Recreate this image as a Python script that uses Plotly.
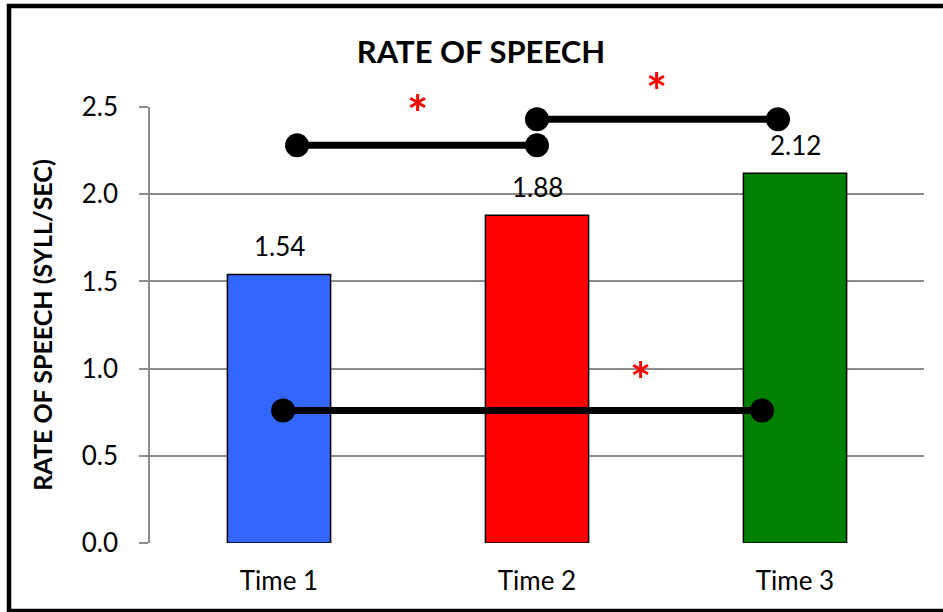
import plotly.graph_objects as go

categories = ["Time 1", "Time 2", "Time 3"]
values = [1.54, 1.88, 2.12]
bar_colors = ["#3366FF", "#FF0000", "#008000"]
value_labels = ["1.54", "1.88", "2.12"]

# significance brackets: (x start, x end, y level), x in category-index units
sig_x0 = [0.07, 1.0, 0.016]
sig_x1 = [1.0, 1.934, 1.872]
sig_y = [2.28, 2.43, 0.76]
# asterisk positions
star_x = [0.535, 1.465, 1.403]
star_y = [2.51, 2.64, 0.98]

y_max = 2.5
yticks = [0.0, 0.5, 1.0, 1.5, 2.0, 2.5]

font_family = "Lato, 'Open Sans', sans-serif"

fig = go.Figure()
idx = list(range(len(categories)))
fig.add_trace(go.Bar(
    x=idx, y=values, width=0.4,
    marker=dict(color=bar_colors, line=dict(color="black", width=1.5)),
    showlegend=False, hoverinfo="skip",
))

for x0, x1, y in zip(sig_x0, sig_x1, sig_y):
    fig.add_trace(go.Scatter(
        x=[x0, x1], y=[y, y], mode="lines+markers",
        line=dict(color="black", width=7),
        marker=dict(color="black", size=24, symbol="circle"),
        showlegend=False, hoverinfo="skip", cliponaxis=False,
    ))

for x, y in zip(star_x, star_y):
    fig.add_annotation(x=x, xref="x", y=y / y_max, yref="paper",
                       xanchor="center", yanchor="middle",
                       text="<b>*</b>", showarrow=False, yshift=-8,
                       font=dict(color="red", size=50, family=font_family))

for i, v, lab in zip(idx, values, value_labels):
    fig.add_annotation(x=i, y=v, text=lab, showarrow=False, yshift=28,
                       xanchor="center", yanchor="middle",
                       font=dict(color="black", size=26, family=font_family))

W, H = 943, 612
L, R, T, B = 150, 19, 107, 69
pw, ph = W - L - R, H - T - B
def px_x(p):
    return (p - L) / pw
def px_y(p):
    return (H - B - p) / ph

fig.add_shape(type="rect", xref="paper", yref="paper",
              x0=px_x(9), x1=px_x(950), y0=px_y(611), y1=px_y(6),
              line=dict(color="black", width=4.5), fillcolor="rgba(0,0,0,0)")

fig.update_layout(
    width=W, height=H,
    margin=dict(l=L, r=R, t=T, b=B),
    paper_bgcolor="white", plot_bgcolor="white",
    font=dict(family=font_family, color="black"),
    title=dict(text="<b>RATE OF SPEECH</b>", x=481 / W, xanchor="center",
               y=1 - 52 / H, yanchor="middle",
               font=dict(size=31, family=font_family, color="black")),
    xaxis=dict(range=[-0.5, 2.5], tickvals=idx, ticktext=categories,
               showgrid=False, zeroline=False, showline=False,
               ticks="", tickfont=dict(size=26), ticklabelstandoff=20),
    yaxis=dict(range=[0, y_max], tickvals=yticks,
               ticktext=[f"{t:.1f}" for t in yticks],
               showgrid=True, gridcolor="#8c8c8c", gridwidth=1.5,
               zeroline=False, showline=True, linecolor="#8c8c8c", linewidth=1.5,
               ticks="outside", ticklen=9, tickcolor="#8c8c8c", tickwidth=1.5,
               tickfont=dict(size=26), ticklabelstandoff=16,
               title=dict(text="<b>RATE OF SPEECH (SYLL/SEC)</b>",
                          font=dict(size=25), standoff=22)),
)

fig.write_html("out.html", config={"displayModeBar": False},
               post_script="document.body.style.margin='0';")
